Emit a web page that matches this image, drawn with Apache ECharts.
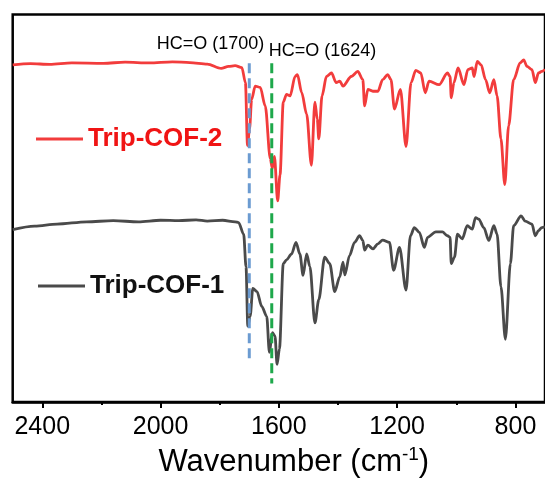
<!DOCTYPE html>
<html>
<head>
<meta charset="utf-8">
<script src="https://cdn.jsdelivr.net/npm/echarts@6/dist/echarts.min.js"></script>
<style>
html, body { margin: 0; padding: 0; background: #fff; }
#chart { width: 545px; height: 484px; }
</style>
</head>
<body>
<div id="chart"></div>
<script>
// FTIR spectra, wavenumber (cm-1) vs signal (arb. units, offset)
var cof2Wavenumber = [2500, 2440, 2375, 2300, 2193, 2120, 2038, 1960, 1901, 1842, 1795, 1770, 1748, 1725, 1713, 1706, 1699, 1692, 1680, 1663, 1646, 1629, 1622, 1615, 1604, 1596, 1585, 1574, 1562, 1545, 1537, 1523, 1506, 1490, 1478, 1470, 1465, 1454, 1439, 1422, 1406, 1394, 1383, 1355, 1333, 1316, 1310, 1299, 1282, 1265, 1249, 1232, 1221, 1209, 1189, 1170, 1153, 1137, 1120, 1105, 1092, 1058, 1030, 1021, 1017, 1008, 994, 974, 961, 946, 940, 929, 916, 901, 887, 873, 862, 849, 836, 823, 806, 784, 772, 761, 744, 733, 722, 711, 700];
var cof2Signal = [87.0, 87.3, 87.15, 87.5, 87.4, 87.7, 87.5, 87.8, 87.6, 87.2, 86.1, 86.6, 86.8, 86.3, 82.4, 66.2, 70.5, 78.1, 81.5, 81.2, 76.4, 62.8, 60.3, 63.4, 51.9, 58.6, 77.4, 79.4, 79.0, 84.0, 84.5, 79.9, 74.3, 61.1, 77.4, 73.0, 67.9, 79.0, 84.0, 84.9, 82.4, 82.8, 81.5, 84.0, 85.3, 83.2, 76.4, 80.7, 80.2, 80.2, 83.2, 84.5, 83.2, 75.6, 80.7, 65.9, 82.4, 85.6, 84.9, 79.8, 82.8, 81.9, 84.9, 84.0, 78.5, 82.4, 86.2, 81.9, 85.8, 86.2, 84.0, 87.9, 87.0, 83.2, 79.8, 83.2, 79.0, 67.9, 56.1, 71.3, 83.2, 87.5, 88.3, 86.6, 85.8, 82.4, 84.9, 85.3, 85.8];

var cof1Wavenumber = [2500, 2426, 2350, 2250, 2160, 2075, 2000, 1938, 1880, 1842, 1790, 1748, 1736, 1719, 1711, 1705, 1697, 1688, 1674, 1658, 1641, 1632, 1622, 1613, 1606, 1598, 1585, 1574, 1557, 1542, 1529, 1518, 1506, 1495, 1478, 1465, 1445, 1428, 1411, 1394, 1383, 1377, 1361, 1344, 1327, 1316, 1310, 1299, 1282, 1265, 1249, 1226, 1212, 1192, 1170, 1155, 1142, 1125, 1108, 1097, 1069, 1047, 1030, 1021, 1017, 1006, 996, 980, 963, 946, 935, 924, 907, 890, 873, 862, 849, 834, 817, 806, 781, 767, 744, 733, 722, 711, 700];
var cof1Signal = [44.5, 45.4, 45.9, 46.5, 46.8, 46.5, 46.9, 46.8, 47.0, 46.7, 46.9, 46.5, 46.3, 43.3, 34.9, 19.6, 22.1, 29.3, 28.5, 24.7, 22.1, 12.8, 17.9, 17.0, 9.7, 13.7, 35.7, 36.7, 38.2, 41.2, 38.2, 32.7, 38.2, 34.9, 20.4, 26.4, 37.4, 35.7, 28.5, 32.3, 36.1, 32.8, 37.8, 41.2, 42.9, 41.7, 39.2, 40.5, 39.5, 40.8, 41.8, 41.2, 34.0, 39.9, 28.9, 42.9, 45.0, 43.8, 39.9, 42.5, 43.9, 43.9, 42.9, 42.5, 35.7, 37.4, 43.3, 42.1, 45.5, 44.6, 47.6, 47.2, 45.0, 41.7, 45.5, 43.3, 29.8, 16.2, 35.7, 45.5, 48.0, 46.7, 45.9, 42.9, 44.2, 45.0, 45.2];

var peakWavenumbers = [1700, 1624];
var peakLabels = ['HC=O (1700)', 'HC=O (1624)'];

var majorTicks = [2400, 2000, 1600, 1200, 800];
var minorTicks = [2200, 1800, 1400, 1000];

var FONT = 'Liberation Sans';

function pairs(xs, ys) {
    return xs.map(function (x, i) { return [x, ys[i]]; });
}

var myChart = echarts.init(document.getElementById('chart'));

var option = {
    backgroundColor: '#fff',
    animation: false,
    grid: {
        left: 12.7,
        top: 14.5,
        width: 535.5,
        height: 392.5,
        show: true,
        borderColor: '#000',
        borderWidth: 2.5
    },
    legend: [{
        data: ['Trip-COF-2'],
        left: 36,
        top: 126,
        padding: 0,
        icon: 'rect',
        itemWidth: 47,
        itemHeight: 3,
        selectedMode: false,
        textStyle: { fontFamily: FONT, fontSize: 26, fontWeight: 'bold', color: '#f01414' }
    }, {
        data: ['Trip-COF-1'],
        left: 38,
        top: 273,
        padding: 0,
        icon: 'rect',
        itemWidth: 47,
        itemHeight: 3,
        selectedMode: false,
        textStyle: { fontFamily: FONT, fontSize: 26, fontWeight: 'bold', color: '#111' }
    }],
    xAxis: [{
        type: 'value',
        min: 700,
        max: 2500,
        inverse: true,
        position: 'bottom',
        name: 'Wavenumber (cm{sup|-1})',
        nameLocation: 'middle',
        nameGap: 43,
        nameTextStyle: {
            fontFamily: FONT,
            fontSize: 31,
            color: '#000',
            lineHeight: 34,
            padding: [0, 0, 0, 30],
            rich: {
                sup: { fontFamily: FONT, fontSize: 19, color: '#000', verticalAlign: 'top', lineHeight: 22 }
            }
        },
        axisLine: { show: true, lineStyle: { color: '#000', width: 2.5 } },
        axisTick: { show: true, customValues: majorTicks, length: 6, lineStyle: { color: '#000', width: 2 } },
        axisLabel: {
            customValues: majorTicks,
            margin: 13,
            fontFamily: FONT,
            fontSize: 25,
            color: '#000',
            formatter: function (v) { return String(v); }
        },
        splitLine: { show: false }
    }, {
        // minor ticks only
        type: 'value',
        min: 700,
        max: 2500,
        inverse: true,
        position: 'bottom',
        axisLine: { show: false },
        axisTick: { show: true, customValues: minorTicks, length: 3, lineStyle: { color: '#000', width: 2 } },
        axisLabel: { show: false },
        splitLine: { show: false }
    }],
    yAxis: {
        type: 'value',
        min: 0,
        max: 100,
        axisLine: { show: false },
        axisTick: { show: false },
        axisLabel: { show: false },
        splitLine: { show: false }
    },
    series: [{
        name: 'Trip-COF-1',
        type: 'line',
        data: pairs(cof1Wavenumber, cof1Signal),
        symbol: 'none',
        smooth: 0.3,
        smoothMonotone: 'x',
        lineStyle: { color: '#4a4a4a', width: 2.8 },
        itemStyle: { color: '#4a4a4a' }
    }, {
        name: 'Trip-COF-2',
        type: 'line',
        data: pairs(cof2Wavenumber, cof2Signal),
        symbol: 'none',
        smooth: 0.3,
        smoothMonotone: 'x',
        lineStyle: { color: '#f23c3c', width: 2.8 },
        itemStyle: { color: '#f23c3c' }
    }, {
        name: 'peak1700',
        type: 'line',
        data: [[peakWavenumbers[0], 87.4], [peakWavenumbers[0], 11.2]],
        symbol: 'none',
        z: 5,
        lineStyle: { color: '#6b9bd1', width: 3, type: [10, 5] }
    }, {
        name: 'peak1624',
        type: 'line',
        data: [[peakWavenumbers[1], 87.4], [peakWavenumbers[1], 4.8]],
        symbol: 'none',
        z: 5,
        lineStyle: { color: '#1ea84b', width: 3, type: [10, 5] }
    }, {
        name: 'peakLabels',
        type: 'scatter',
        symbolSize: 1,
        itemStyle: { color: 'rgba(0,0,0,0)' },
        silent: true,
        z: 6,
        data: [{
            value: [peakWavenumbers[0], 92.4],
            label: { formatter: peakLabels[0], align: 'right', offset: [15, 0] }
        }, {
            value: [peakWavenumbers[1], 90.6],
            label: { formatter: peakLabels[1], align: 'left', offset: [-3, 0] }
        }],
        label: {
            show: true,
            position: 'inside',
            fontFamily: FONT,
            fontSize: 18,
            color: '#000',
            opacity: 1,
            textBorderWidth: 0
        }
    }]
};
myChart.setOption(option);
</script>
</body>
</html>
